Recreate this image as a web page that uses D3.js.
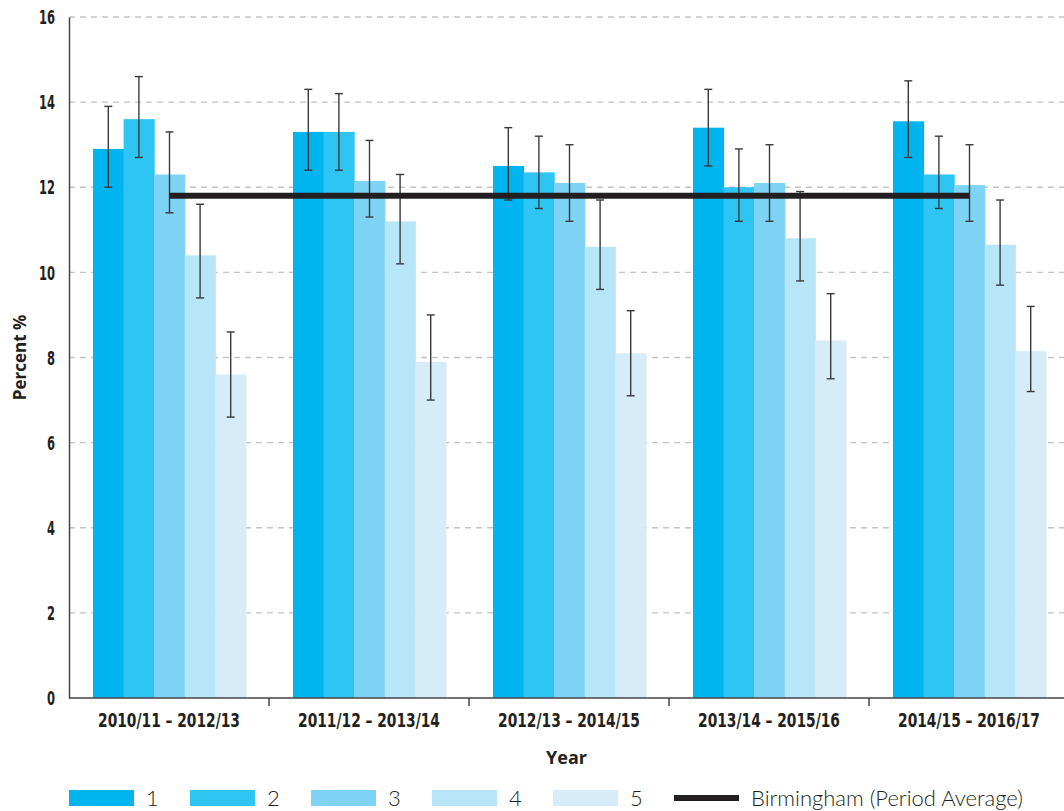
<!DOCTYPE html>
<html>
<head>
<meta charset="utf-8">
<script src="https://cdn.jsdelivr.net/npm/d3@7"></script>
<style>
  body { margin: 0; background: #fff; }
  svg { display: block; }
</style>
</head>
<body>
<svg id="chart" width="1064" height="811"></svg>
<script>
// Rolling three-year periods
const periods = ["2010/11 – 2012/13", "2011/12 – 2013/14", "2012/13 – 2014/15", "2013/14 – 2015/16", "2014/15 – 2016/17"];
// Quintile groups 1..5
const groups = ["1", "2", "3", "4", "5"];
const groupColors = ["#00b5ef", "#2ec5f3", "#7fd3f4", "#b9e5f8", "#d6edf9"];

// Percent per period, one array per quintile
const q1 = [12.9, 13.3, 12.5, 13.4, 13.55];
const q2 = [13.6, 13.3, 12.35, 12.0, 12.3];
const q3 = [12.3, 12.15, 12.1, 12.1, 12.05];
const q4 = [10.4, 11.2, 10.6, 10.8, 10.65];
const q5 = [7.6, 7.9, 8.1, 8.4, 8.15];

// Confidence interval lower / upper bounds
const q1Low = [12.0, 12.4, 11.7, 12.5, 12.7];
const q1High = [13.9, 14.3, 13.4, 14.3, 14.5];
const q2Low = [12.7, 12.4, 11.5, 11.2, 11.5];
const q2High = [14.6, 14.2, 13.2, 12.9, 13.2];
const q3Low = [11.4, 11.3, 11.2, 11.2, 11.2];
const q3High = [13.3, 13.1, 13.0, 13.0, 13.0];
const q4Low = [9.4, 10.2, 9.6, 9.8, 9.7];
const q4High = [11.6, 12.3, 11.7, 11.9, 11.7];
const q5Low = [6.6, 7.0, 7.1, 7.5, 7.2];
const q5High = [8.6, 9.0, 9.1, 9.5, 9.2];

// Birmingham average across the periods
const birminghamAverage = 11.8;
const yTicks = [0, 2, 4, 6, 8, 10, 12, 14, 16];

const seriesValues = [q1, q2, q3, q4, q5];
const seriesLow = [q1Low, q2Low, q3Low, q4Low, q5Low];
const seriesHigh = [q1High, q2High, q3High, q4High, q5High];

const svg = d3.select("#chart");
const margin = { left: 69, top: 17, right: -5, bottom: 113 };
const W = 1064, H = 811;
const plotW = W - margin.left - margin.right;
const plotH = H - margin.top - margin.bottom;

const g = svg.append("g").attr("transform", `translate(${margin.left},${margin.top})`);

const x0 = d3.scaleBand().domain(periods).range([0, plotW]).paddingInner(0).paddingOuter(0);
const x1 = d3.scaleBand().domain(groups).range([24, x0.bandwidth() - 23]).padding(0);
const y = d3.scaleLinear().domain([0, 16]).range([plotH, 0]);

const condensed = "'DejaVu Sans Condensed', 'Liberation Sans Narrow', 'DejaVu Sans', sans-serif";

// Squeeze a text horizontally to a target width around its anchor point
function squeeze(textSel, targetWidth, ax, ay) {
  textSel.each(function(d) {
    const w = this.getComputedTextLength();
    const s = Math.min(1, targetWidth(d) / w);
    const px = ax(d), py = ay(d);
    d3.select(this)
      .attr("x", 0).attr("y", 0)
      .attr("transform", `translate(${px},${py}) scale(${s},1)`);
  });
}

// Dashed horizontal gridlines
g.append("g").selectAll("line")
  .data(yTicks.filter(t => t > 0))
  .join("line")
  .attr("x1", 0).attr("x2", plotW + 10)
  .attr("y1", d => y(d)).attr("y2", d => y(d))
  .attr("stroke", "#c4c4c4").attr("stroke-width", 1.3)
  .attr("stroke-dasharray", "6,5");

// Bars
const periodG = g.append("g").selectAll("g")
  .data(periods)
  .join("g")
  .attr("transform", d => `translate(${x0(d)},0)`);

periodG.each(function(p, pi) {
  const sel = d3.select(this);
  groups.forEach((grp, gi) => {
    const v = seriesValues[gi][pi];
    sel.append("rect")
      .attr("x", x1(grp))
      .attr("width", x1.bandwidth() + 0.5)
      .attr("y", y(v))
      .attr("height", y(0) - y(v))
      .attr("fill", groupColors[gi]);
  });
});

// Birmingham average line, spanning from the first to last period centre
const lineStart = x0(periods[0]) + x1(groups[2]) + x1.bandwidth() / 2;
const lineEnd = x0(periods[periods.length - 1]) + x1(groups[2]) + x1.bandwidth() / 2;
g.append("line")
  .attr("x1", lineStart).attr("x2", lineEnd)
  .attr("y1", y(birminghamAverage)).attr("y2", y(birminghamAverage))
  .attr("stroke", "#231f20").attr("stroke-width", 6);

// Error bars
periodG.each(function(p, pi) {
  const sel = d3.select(this);
  groups.forEach((grp, gi) => {
    const cx = x1(grp) + x1.bandwidth() / 2;
    const lo = seriesLow[gi][pi], hi = seriesHigh[gi][pi];
    const eg = sel.append("g").attr("stroke", "#3a3a3a").attr("stroke-width", 1.4);
    eg.append("line").attr("x1", cx).attr("x2", cx).attr("y1", y(lo)).attr("y2", y(hi));
    eg.append("line").attr("x1", cx - 4).attr("x2", cx + 4).attr("y1", y(lo)).attr("y2", y(lo));
    eg.append("line").attr("x1", cx - 4).attr("x2", cx + 4).attr("y1", y(hi)).attr("y2", y(hi));
  });
});

// Y axis
const yAxis = g.append("g")
  .call(d3.axisLeft(y).tickValues(yTicks).tickSize(0).tickPadding(14));
yAxis.select(".domain").attr("stroke", "#444").attr("stroke-width", 1.5);
yAxis.selectAll(".tick text")
  .attr("font-family", condensed).attr("font-weight", "bold")
  .attr("font-size", 19).attr("fill", "#231f20")
  .attr("dy", "0.35em")
  .call(squeeze, d => String(d).length * 8, () => -14, () => 0);

// X axis with ticks at period boundaries
const xAxisG = g.append("g").attr("transform", `translate(0,${plotH})`);
xAxisG.append("line").attr("x1", 0).attr("x2", plotW).attr("y1", 0).attr("y2", 0)
  .attr("stroke", "#444").attr("stroke-width", 1.5);
xAxisG.selectAll("line.tick")
  .data(periods.slice(1))
  .join("line").attr("class", "tick")
  .attr("x1", d => x0(d)).attr("x2", d => x0(d))
  .attr("y1", 0).attr("y2", 8)
  .attr("stroke", "#444").attr("stroke-width", 1.5);
xAxisG.selectAll("text.lbl")
  .data(periods)
  .join("text").attr("class", "lbl")
  .attr("text-anchor", "middle")
  .attr("font-family", condensed).attr("font-weight", "bold")
  .attr("font-size", 20).attr("fill", "#231f20")
  .text(d => d)
  .call(squeeze, () => 142, d => x0(d) + x0.bandwidth() / 2, () => 29);

// Axis titles
svg.append("text")
  .attr("x", margin.left + (W - margin.left) / 2)
  .attr("y", 764)
  .attr("text-anchor", "middle")
  .attr("font-family", "'Open Sans', 'Lato', sans-serif").attr("font-weight", "bold")
  .attr("font-size", 18).attr("fill", "#231f20")
  .text("Year");

svg.append("text")
  .attr("transform", `translate(26,${margin.top + plotH / 2}) rotate(-90)`)
  .attr("text-anchor", "middle")
  .attr("font-family", "'Open Sans', 'Lato', sans-serif").attr("font-weight", "bold")
  .attr("font-size", 17).attr("fill", "#231f20")
  .text("Percent %");

// Legend
const legend = svg.append("g").attr("transform", "translate(69,790)");
groups.forEach((grp, i) => {
  const lg = legend.append("g").attr("transform", `translate(${i * 121},0)`);
  lg.append("rect").attr("width", 65).attr("height", 16).attr("fill", groupColors[i]);
  lg.append("text").attr("x", 77).attr("y", 16)
    .attr("font-family", "'Lato', 'Open Sans', sans-serif").attr("font-weight", 300)
    .attr("font-size", 22).attr("fill", "#231f20").text(grp);
});
const lb = legend.append("g").attr("transform", `translate(${5 * 121},0)`);
lb.append("line").attr("x1", 0).attr("x2", 65).attr("y1", 8).attr("y2", 8)
  .attr("stroke", "#231f20").attr("stroke-width", 6);
lb.append("text").attr("x", 77).attr("y", 16)
  .attr("font-family", "'Lato', 'Open Sans', sans-serif").attr("font-weight", 300)
  .attr("font-size", 22).attr("fill", "#231f20").text("Birmingham (Period Average)");
</script>
</body>
</html>
